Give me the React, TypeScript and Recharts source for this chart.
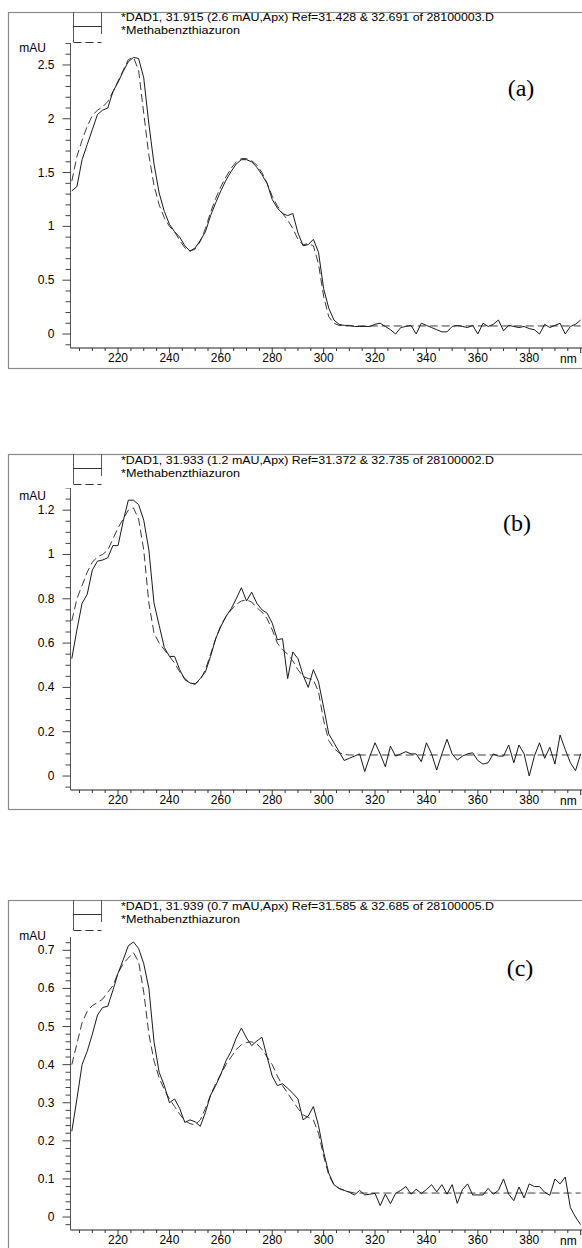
import React from "react";
import { LineChart, Line, XAxis, YAxis } from "recharts";

// wavelength grid (nm), 2 nm steps
const wavelengths = [
  202, 204, 206, 208, 210, 212, 214, 216, 218, 220,
  222, 224, 226, 228, 230, 232, 234, 236, 238, 240,
  242, 244, 246, 248, 250, 252, 254, 256, 258, 260,
  262, 264, 266, 268, 270, 272, 274, 276, 278, 280,
  282, 284, 286, 288, 290, 292, 294, 296, 298, 300,
  302, 304, 306, 308, 310, 312, 314, 316, 318, 320,
  322, 324, 326, 328, 330, 332, 334, 336, 338, 340,
  342, 344, 346, 348, 350, 352, 354, 356, 358, 360,
  362, 364, 366, 368, 370, 372, 374, 376, 378, 380,
  382, 384, 386, 388, 390, 392, 394, 396, 398, 400,
];

// (a) sample spectrum 28100003.D (solid) and library Methabenzthiazuron (dashed)
const sampleA = [
  1.33, 1.37, 1.62, 1.76, 1.9, 2.04, 2.08, 2.1, 2.25, 2.34,
  2.44, 2.53, 2.57, 2.56, 2.38, 1.95, 1.58, 1.31, 1.14, 1.02,
  0.95, 0.9, 0.82, 0.77, 0.8, 0.87, 0.95, 1.1, 1.22, 1.33,
  1.43, 1.51, 1.58, 1.62, 1.62, 1.6, 1.55, 1.48, 1.4, 1.25,
  1.17, 1.12, 1.1, 1.12, 0.94, 0.82, 0.83, 0.88, 0.76, 0.42,
  0.24, 0.13, 0.09, 0.08, 0.08, 0.07, 0.07, 0.07, 0.07, 0.09,
  0.1, 0.07, 0.04, 0.0, 0.06, 0.07, 0.08, 0.0, 0.1, 0.08,
  0.06, 0.04, 0.02, 0.02, 0.07, 0.08, 0.07, 0.06, 0.08, 0.0,
  0.1, 0.07, 0.09, 0.13, 0.03, 0.08, 0.07, 0.06, 0.07, 0.05,
  0.04, 0.0, 0.09, 0.06, 0.08, 0.1, 0.0, 0.07, 0.09, 0.13,
];
const libraryA = [
  1.42, 1.65, 1.8, 1.93, 2.03, 2.08, 2.11, 2.16, 2.25, 2.35,
  2.45, 2.55, 2.57, 2.45, 2.05, 1.66, 1.38, 1.2, 1.08, 1.0,
  0.95, 0.87, 0.8, 0.77, 0.79, 0.86, 0.98, 1.13, 1.26, 1.37,
  1.46, 1.54, 1.6, 1.63, 1.63, 1.61, 1.57, 1.5, 1.4, 1.28,
  1.19, 1.12, 1.06, 0.98, 0.88, 0.83, 0.84, 0.82, 0.65, 0.35,
  0.16, 0.1, 0.08, 0.075, 0.075, 0.075, 0.075, 0.075, 0.075, 0.075,
  0.075, 0.075, 0.075, 0.075, 0.075, 0.075, 0.075, 0.075, 0.075, 0.075,
  0.075, 0.075, 0.075, 0.075, 0.075, 0.075, 0.075, 0.075, 0.075, 0.075,
  0.075, 0.075, 0.075, 0.075, 0.075, 0.075, 0.075, 0.075, 0.075, 0.075,
  0.075, 0.075, 0.075, 0.075, 0.075, 0.075, 0.075, 0.075, 0.075, 0.075,
];

// (b) 28100002.D
const sampleB = [
  0.53, 0.66, 0.78, 0.82, 0.93, 0.97, 0.975, 0.985, 1.04, 1.04,
  1.15, 1.245, 1.245, 1.225, 1.155, 1.02, 0.78, 0.68, 0.58, 0.54,
  0.54, 0.48, 0.435, 0.42, 0.415, 0.44, 0.47, 0.54, 0.62, 0.675,
  0.72, 0.755, 0.8, 0.85, 0.79, 0.83, 0.78, 0.75, 0.735, 0.69,
  0.615, 0.62, 0.44, 0.56, 0.53, 0.455, 0.4, 0.48, 0.425, 0.31,
  0.19, 0.15, 0.11, 0.07, 0.08, 0.09, 0.1, 0.02, 0.09, 0.15,
  0.1, 0.042, 0.135, 0.09, 0.1, 0.11, 0.1, 0.1, 0.065, 0.15,
  0.1, 0.027, 0.1, 0.166, 0.1, 0.072, 0.09, 0.1, 0.105, 0.07,
  0.054, 0.06, 0.1, 0.09, 0.09, 0.14, 0.06, 0.14, 0.1, 0.0,
  0.09, 0.15, 0.08, 0.13, 0.054, 0.185, 0.12, 0.06, 0.024, 0.1,
];
const libraryB = [
  0.7, 0.8, 0.86, 0.92, 0.965, 0.99, 1.0, 1.02, 1.07, 1.12,
  1.16, 1.2, 1.21, 1.16, 1.02, 0.78, 0.645, 0.6, 0.57, 0.54,
  0.51, 0.47, 0.44, 0.42, 0.415, 0.435, 0.48, 0.55, 0.62, 0.68,
  0.72, 0.75, 0.775, 0.79, 0.795, 0.785, 0.76, 0.74, 0.71, 0.66,
  0.6, 0.57, 0.55, 0.52, 0.48, 0.45, 0.44, 0.435, 0.38, 0.25,
  0.16, 0.125, 0.105, 0.098, 0.095, 0.095, 0.095, 0.095, 0.095, 0.095,
  0.095, 0.095, 0.095, 0.095, 0.095, 0.095, 0.095, 0.095, 0.095, 0.095,
  0.095, 0.095, 0.095, 0.095, 0.095, 0.095, 0.095, 0.095, 0.095, 0.095,
  0.095, 0.095, 0.095, 0.095, 0.095, 0.095, 0.095, 0.095, 0.095, 0.095,
  0.095, 0.095, 0.095, 0.095, 0.095, 0.095, 0.095, 0.095, 0.095, 0.095,
];

// (c) 28100005.D
const sampleC = [
  0.225, 0.31, 0.4, 0.435, 0.48, 0.53, 0.55, 0.553, 0.595, 0.64,
  0.675, 0.712, 0.722, 0.705, 0.665, 0.6, 0.46, 0.38, 0.345, 0.3,
  0.31, 0.285, 0.248, 0.255, 0.25, 0.238, 0.275, 0.32, 0.345, 0.375,
  0.41, 0.435, 0.47, 0.496, 0.47, 0.45, 0.462, 0.472, 0.42, 0.37,
  0.345, 0.35, 0.338, 0.325, 0.31, 0.255, 0.265, 0.29, 0.24, 0.17,
  0.115, 0.085, 0.075, 0.07, 0.065, 0.058, 0.07, 0.058, 0.06, 0.062,
  0.03, 0.06, 0.035, 0.062, 0.07, 0.08, 0.06, 0.073, 0.062, 0.072,
  0.085, 0.066, 0.085, 0.06, 0.085, 0.036, 0.072, 0.087, 0.058, 0.058,
  0.058, 0.075, 0.06, 0.07, 0.1, 0.06, 0.043, 0.079, 0.05, 0.087,
  0.08, 0.08, 0.065, 0.057, 0.1, 0.087, 0.105, 0.025, 0.0, -0.02,
];
const libraryC = [
  0.4, 0.455, 0.51, 0.54, 0.555, 0.563, 0.572, 0.59, 0.607, 0.64,
  0.665, 0.68, 0.694, 0.67, 0.59, 0.48, 0.41, 0.365, 0.335, 0.31,
  0.29, 0.27, 0.253, 0.245, 0.242, 0.255, 0.285, 0.32, 0.35, 0.375,
  0.4, 0.42, 0.44, 0.452, 0.458, 0.46, 0.455, 0.44, 0.42, 0.4,
  0.37, 0.345, 0.325, 0.305, 0.285, 0.268, 0.262, 0.255, 0.22, 0.16,
  0.11, 0.085, 0.075, 0.07, 0.066, 0.063, 0.063, 0.063, 0.063, 0.063,
  0.063, 0.063, 0.063, 0.063, 0.063, 0.063, 0.063, 0.063, 0.063, 0.063,
  0.063, 0.063, 0.063, 0.063, 0.063, 0.063, 0.063, 0.063, 0.063, 0.063,
  0.063, 0.063, 0.063, 0.063, 0.063, 0.063, 0.063, 0.063, 0.063, 0.063,
  0.063, 0.063, 0.063, 0.063, 0.063, 0.063, 0.063, 0.063, 0.063, 0.063,
];

const xMajorTicks = [220, 240, 260, 280, 300, 320, 340, 360, 380, 400];
const yMajorA = [0, 0.5, 1, 1.5, 2, 2.5];
const yMajorB = [0, 0.2, 0.4, 0.6, 0.8, 1, 1.2];
const yMajorC = [0, 0.1, 0.2, 0.3, 0.4, 0.5, 0.6, 0.7];

const headersA = ["*DAD1, 31.915 (2.6 mAU,Apx) Ref=31.428 & 32.691 of 28100003.D", "*Methabenzthiazuron"];
const headersB = ["*DAD1, 31.933 (1.2 mAU,Apx) Ref=31.372 & 32.735 of 28100002.D", "*Methabenzthiazuron"];
const headersC = ["*DAD1, 31.939 (0.7 mAU,Apx) Ref=31.585 & 32.685 of 28100005.D", "*Methabenzthiazuron"];

const FONT = "'Liberation Sans', Arial, sans-serif";
const CHART_W = 584.5;
const AXIS_X = 70.5;
const X_DOMAIN: [number, number] = [201.5, 401.5];

const steps = (from: number, to: number, step: number) => {
  const out: number[] = [];
  for (let i = 0; from + i * step <= to + 1e-9; i++) out.push(Number((from + i * step).toFixed(3)));
  return out;
};
const xTicks = steps(205, 400, 5);

const XTick = ({ x, y, payload }: any) => {
  const v = payload.value;
  const major = xMajorTicks.includes(v);
  return (
    <g>
      <line x1={x} x2={x} y1={y} y2={y + (major ? 5 : 3)} stroke="#333" strokeWidth={1} />
      {major && v === 400 && (
        <text x={x - 4} y={y + 15} textAnchor="end" fontSize={12} fontFamily={FONT} fill="#000">nm</text>
      )}
      {major && v !== 400 && (
        <text x={x} y={y + 14} textAnchor="middle" fontSize={12} fontFamily={FONT} fill="#000">{v}</text>
      )}
    </g>
  );
};

const makeYTick = (majors: number[]) => ({ x, y, payload }: any) => {
  const v = payload.value;
  const major = majors.some((m) => Math.abs(m - v) < 1e-6);
  return (
    <g>
      <line x1={x - (major ? 8 : 5)} x2={x} y1={y} y2={y} stroke="#444" strokeWidth={1} />
      {major && (
        <text x={x - 16} y={y + 4} textAnchor="end" fontSize={12} fontFamily={FONT} fill="#000">
          {String(v)}
        </text>
      )}
    </g>
  );
};

type PanelProps = {
  sample: number[];
  library: number[];
  majors: number[];
  minorStep: number;
  yDomain: [number, number];
  plotTop: number;
  axisY: number;
  borderTop: number;
  borderBottom: number;
  headers: string[];
  headerBase: number;
  mauBase: number;
  tag: string;
  tagX: number;
  tagBase: number;
};

function Panel(p: PanelProps) {
  const rows = wavelengths.map((nm, i) => ({ nm, sample: p.sample[i], library: p.library[i] }));
  const plotH = p.axisY - p.plotTop;
  const xAxisH = 30;
  const yTicks = steps(Math.ceil(p.yDomain[0] / p.minorStep) * p.minorStep, p.yDomain[1], p.minorStep);
  const YTick = makeYTick(p.majors);
  const bt = p.borderTop;
  return (
    <>
      <svg
        width={582}
        height={p.borderBottom - bt + 4}
        style={{ position: "absolute", left: 0, top: bt - 2, overflow: "visible" }}
      >
        <g transform={`translate(0, 2)`}>
          <rect x={8.5} y={0.5} width={620} height={p.borderBottom - bt} fill="none" stroke="#8a8a8a" strokeWidth={1.2} />
          {/* legend samples */}
          <line x1={73.5} x2={73.5} y1={0} y2={30} stroke="#555" strokeWidth={1} />
          <line x1={101.5} x2={101.5} y1={0} y2={22} stroke="#555" strokeWidth={1} />
          <line x1={73.5} x2={101.5} y1={14.5} y2={14.5} stroke="#333" strokeWidth={1} />
          <line x1={73.5} x2={101.5} y1={30.5} y2={30.5} stroke="#333" strokeWidth={1} strokeDasharray="8 4" />
          <text
            x={121}
            y={p.headerBase - bt}
            fontSize={11}
            fontFamily={FONT}
            fill="#000"
            textLength={373}
            lengthAdjust="spacingAndGlyphs"
          >
            {p.headers[0]}
          </text>
          <text
            x={121}
            y={p.headerBase - bt + 13}
            fontSize={11}
            fontFamily={FONT}
            fill="#000"
            textLength={119}
            lengthAdjust="spacingAndGlyphs"
          >
            {p.headers[1]}
          </text>
          <text x={46} y={p.mauBase - bt} textAnchor="end" fontSize={12} fontFamily={FONT} fill="#000">
            mAU
          </text>
          <text
            x={p.tagX}
            y={p.tagBase - bt}
            textAnchor="middle"
            fontSize={24}
            fontFamily="'Liberation Serif', 'Times New Roman', serif"
            fill="#000"
          >
            {p.tag}
          </text>
        </g>
      </svg>
      <div style={{ position: "absolute", left: 0, top: p.plotTop, width: CHART_W, height: plotH + xAxisH }}>
        <LineChart width={CHART_W} height={plotH + xAxisH} data={rows} margin={{ top: 0, right: 0, bottom: 0, left: 0 }}>
          <XAxis
            type="number"
            dataKey="nm"
            domain={X_DOMAIN}
            allowDataOverflow
            ticks={xTicks}
            interval={0}
            tick={<XTick />}
            tickLine={false}
            tickSize={0}
            tickMargin={0}
            height={xAxisH}
            axisLine={{ stroke: "#222", strokeWidth: 1.2 }}
          />
          <YAxis
            type="number"
            domain={p.yDomain}
            allowDataOverflow
            ticks={yTicks}
            interval={0}
            tick={<YTick />}
            tickLine={false}
            tickSize={0}
            tickMargin={0}
            width={AXIS_X}
            axisLine={{ stroke: "#555", strokeWidth: 1 }}
          />
          <Line
            dataKey="library"
            type="linear"
            stroke="#3a3a3a"
            strokeWidth={1}
            strokeDasharray="8 4"
            dot={false}
            activeDot={false}
            isAnimationActive={false}
          />
          <Line
            dataKey="sample"
            type="linear"
            stroke="#1a1a1a"
            strokeWidth={1}
            dot={false}
            activeDot={false}
            isAnimationActive={false}
          />
        </LineChart>
      </div>
    </>
  );
}

export default function App() {
  return (
    <div
      style={{
        position: "absolute",
        left: 0,
        top: 0,
        width: 582,
        height: 1248,
        overflow: "hidden",
        background: "#fff",
      }}
    >
      <Panel
        sample={sampleA}
        library={libraryA}
        majors={yMajorA}
        minorStep={0.1}
        yDomain={[-0.13, 2.704]}
        plotTop={43}
        axisY={348}
        borderTop={12}
        borderBottom={368}
        headers={headersA}
        headerBase={21}
        mauBase={52}
        tag="(a)"
        tagX={521}
        tagBase={96}
      />
      <Panel
        sample={sampleB}
        library={libraryB}
        majors={yMajorB}
        minorStep={0.05}
        yDomain={[-0.063, 1.3]}
        plotTop={488}
        axisY={790}
        borderTop={454}
        borderBottom={809}
        headers={headersB}
        headerBase={464}
        mauBase={500}
        tag="(b)"
        tagX={517}
        tagBase={531}
      />
      <Panel
        sample={sampleC}
        library={libraryC}
        majors={yMajorC}
        minorStep={0.02}
        yDomain={[-0.034, 0.735]}
        plotTop={937}
        axisY={1230}
        borderTop={900}
        borderBottom={1320}
        headers={headersC}
        headerBase={910}
        mauBase={940}
        tag="(c)"
        tagX={520}
        tagBase={976}
      />
    </div>
  );
}
